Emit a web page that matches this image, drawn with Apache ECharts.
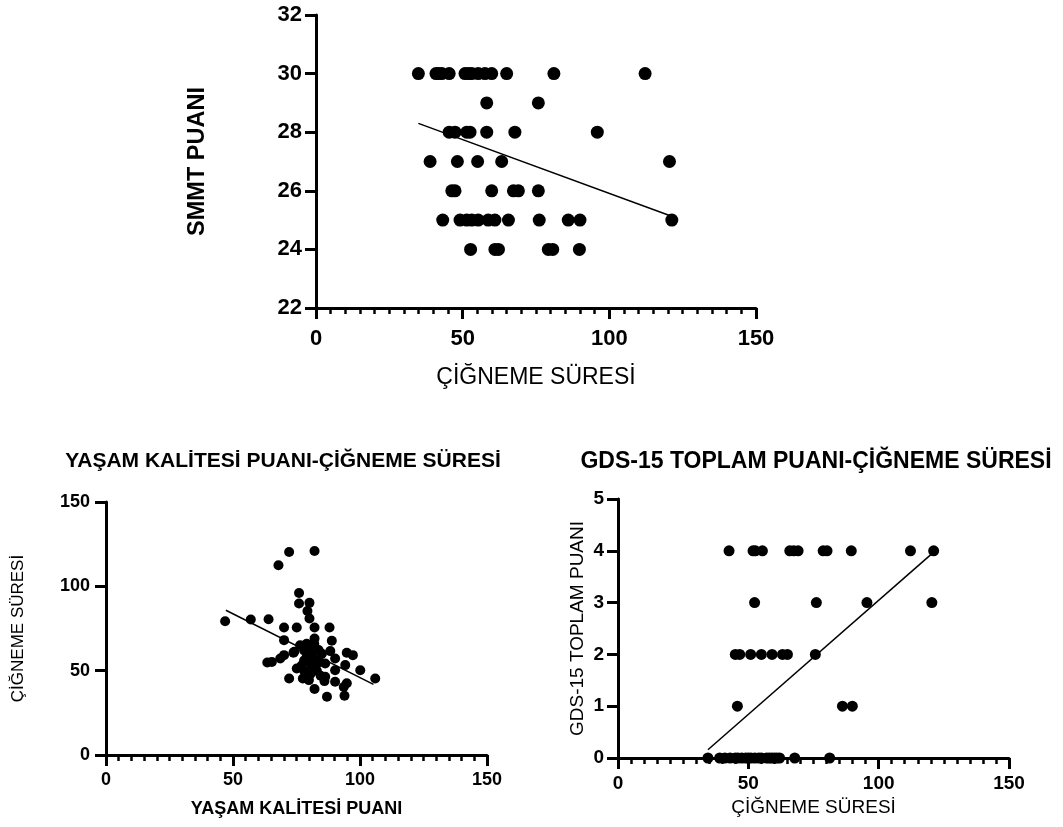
<!DOCTYPE html>
<html>
<head>
<meta charset="utf-8">
<script src="https://cdn.jsdelivr.net/npm/echarts@6/dist/echarts.min.js"></script>
<style>
html, body { margin: 0; padding: 0; background: #fff; }
#main { width: 1063px; height: 827px; }
</style>
</head>
<body>
<div id="main"></div>
<script>
// SMMT puani - cigneme suresi
var smmtChew = [34.9, 40.9, 41.8, 42.9, 45.4, 50.8, 52.0, 53.1, 55.3, 57.6, 59.9, 65.0, 81.1, 112.2,
    58.2, 75.8,
    45.4, 47.4, 51.4, 52.5, 58.2, 67.8, 95.9,
    38.9, 48.2, 55.1, 63.3, 120.5,
    46.3, 47.4, 59.9, 67.3, 69.0, 75.8,
    43.2, 49.1, 51.4, 53.1, 55.3, 58.7, 61.0, 65.6, 76.1, 86.0, 90.0, 121.3,
    52.7, 61.0, 62.2, 79.2, 80.7, 89.8];
var smmtScore = [30, 30, 30, 30, 30, 30, 30, 30, 30, 30, 30, 30, 30, 30,
    29, 29,
    28, 28, 28, 28, 28, 28, 28,
    27, 27, 27, 27, 27,
    26, 26, 26, 26, 26, 26,
    25, 25, 25, 25, 25, 25, 25, 25, 25, 25, 25, 25,
    24, 24, 24, 24, 24, 24];
var smmtFitX = [34.9, 121];
var smmtFitY = [28.3, 25.14];

// yasam kalitesi puani - cigneme suresi
var qolScore = [46.9, 57.0, 64.0, 67.9, 72.1, 82.1,
    76.0, 76.0, 80.1, 79.3, 80.1,
    70.1, 75.1, 82.1, 88.0,
    70.1, 82.1, 88.9, 76.4, 73.8, 70.1, 68.6, 65.3, 63.5, 74.1,
    83.7, 88.3, 90.2, 94.8, 97.2, 94.2, 100.1, 106.0,
    72.1, 75.1, 86.3, 90.2, 90.2, 94.8, 86.3, 82.1, 87.0, 93.9, 93.6,
    77.5, 79.9, 86.0,
    78.0, 79.0, 80.0, 81.0, 78.0, 79.0, 80.5, 81.0, 82.0, 83.0, 84.0, 85.0, 78.0, 80.0, 82.0, 79.0, 77.0, 84.5];
var qolChew = [79.3, 80.3, 80.5, 112.5, 120.4, 121.0,
    96.1, 89.8, 90.2, 85.4, 80.9,
    75.6, 75.6, 75.6, 75.6,
    68.1, 69.1, 67.7, 65.1, 60.6, 59.2, 57.2, 55.2, 54.8, 61.2,
    62.2, 61.6, 57.2, 60.6, 59.2, 53.3, 50.3, 45.4,
    45.4, 51.3, 54.3, 50.3, 43.4, 42.5, 46.4, 39.1, 34.5, 35.1, 40.3,
    45.4, 44.4, 43.8,
    62.0, 58.0, 55.0, 52.0, 50.0, 47.0, 48.0, 60.0, 57.0, 50.0, 55.0, 60.0, 56.0, 64.0, 66.0, 66.0, 53.0, 47.0];
var qolFitX = [47.2, 105.3];
var qolFitY = [85.8, 41.9];

// GDS-15 toplam puani - cigneme suresi
var gdsChew = [42.6, 51.8, 52.7, 55.4, 65.9, 67.4, 69.1, 78.7, 80.2, 89.5, 112.2, 121.1,
    52.4, 76.1, 95.5, 120.4,
    45.0, 46.7, 50.9, 55.0, 59.1, 63.1, 65.0, 75.7,
    45.8, 86.1, 89.9,
    34.5, 39.0, 41.0, 43.0, 45.0, 46.0, 47.5, 49.0, 50.0, 51.0, 52.5, 54.0, 55.0, 57.0, 58.0, 59.0, 60.0, 61.0, 62.0, 67.8, 81.2];
var gdsScore = [4, 4, 4, 4, 4, 4, 4, 4, 4, 4, 4, 4,
    3, 3, 3, 3,
    2, 2, 2, 2, 2, 2, 2, 2,
    1, 1, 1,
    0, 0, 0, 0, 0, 0, 0, 0, 0, 0, 0, 0, 0, 0, 0, 0, 0, 0, 0, 0, 0];
var gdsFitX = [34.5, 121];
var gdsFitY = [0.16, 3.97];

var FONT = '"Liberation Sans", Arial, sans-serif';

function pairs(xs, ys) {
    var out = [];
    for (var i = 0; i < xs.length; i++) {
        out.push([xs[i], ys[i]]);
    }
    return out;
}

// ortak eksen ayari
function axis(gridIndex, min, max, interval, minor, labelSize, margin, name, nameGap, nameStyle) {
    return {
        type: 'value',
        gridIndex: gridIndex,
        min: min,
        max: max,
        interval: interval,
        name: name,
        nameLocation: 'middle',
        nameGap: nameGap,
        nameTextStyle: nameStyle,
        axisLine: { show: true, onZero: false, lineStyle: { color: '#000', width: 3 } },
        axisTick: { show: true, length: 11, lineStyle: { color: '#000', width: 3 } },
        minorTick: { show: minor, splitNumber: 10, length: 6, lineStyle: { color: '#000', width: 2.5 } },
        splitLine: { show: false },
        minorSplitLine: { show: false },
        axisLabel: { color: '#000', fontWeight: 'bold', fontSize: labelSize, fontFamily: FONT, margin: margin }
    };
}

function nameStyle(size, weight) {
    return { color: '#000', fontSize: size, fontWeight: weight, fontFamily: FONT };
}

function scatter(i, data, size) {
    return {
        type: 'scatter', xAxisIndex: i, yAxisIndex: i,
        data: data, symbolSize: size,
        itemStyle: { color: '#000', opacity: 1 }
    };
}

function fit(i, data) {
    return {
        type: 'line', xAxisIndex: i, yAxisIndex: i,
        data: data, symbol: 'none', z: 3,
        lineStyle: { color: '#000', width: 1.5 }
    };
}

var chart = echarts.init(document.getElementById('main'));

var option = {
    animation: false,
    backgroundColor: '#fff',
    title: [{
        text: 'YAŞAM KALİTESİ PUANI-ÇİĞNEME SÜRESİ',
        left: 283, top: 451, textAlign: 'center', padding: 0,
        textStyle: nameStyle(21, 'bold')
    }, {
        text: 'GDS-15 TOPLAM PUANI-ÇİĞNEME SÜRESİ',
        left: 816, top: 450, textAlign: 'center', padding: 0,
        textStyle: nameStyle(23, 'bold')
    }],
    grid: [
        { left: 316, right: 307, top: 15, bottom: 519 },
        { left: 106, right: 576, top: 502, bottom: 72 },
        { left: 618, right: 54, top: 499, bottom: 69 }
    ],
    xAxis: [
        axis(0, 0, 150, 50, true, 22, 20, 'ÇİĞNEME SÜRESİ', 58, nameStyle(23, 'normal')),
        axis(1, 0, 150, 50, true, 18, 16, 'YAŞAM KALİTESİ PUANI', 45, nameStyle(18, 'bold')),
        axis(2, 0, 150, 50, true, 19, 16, 'ÇİĞNEME SÜRESİ', 40, nameStyle(19, 'normal'))
    ],
    yAxis: [
        axis(0, 22, 32, 2, false, 22, 14, 'SMMT PUANI', 106, nameStyle(23.5, 'bold')),
        axis(1, 0, 150, 50, false, 18, 16, 'ÇİĞNEME SÜRESİ', 79, nameStyle(17, 'normal')),
        axis(2, 0, 5, 1, false, 19, 14, 'GDS-15 TOPLAM PUANI', 31, nameStyle(19, 'normal'))
    ],
    series: [
        scatter(0, pairs(smmtChew, smmtScore), 13),
        fit(0, pairs(smmtFitX, smmtFitY)),
        scatter(1, pairs(qolScore, qolChew), 10),
        fit(1, pairs(qolFitX, qolFitY)),
        scatter(2, pairs(gdsChew, gdsScore), 11),
        fit(2, pairs(gdsFitX, gdsFitY))
    ]
};

chart.setOption(option);
</script>
</body>
</html>
